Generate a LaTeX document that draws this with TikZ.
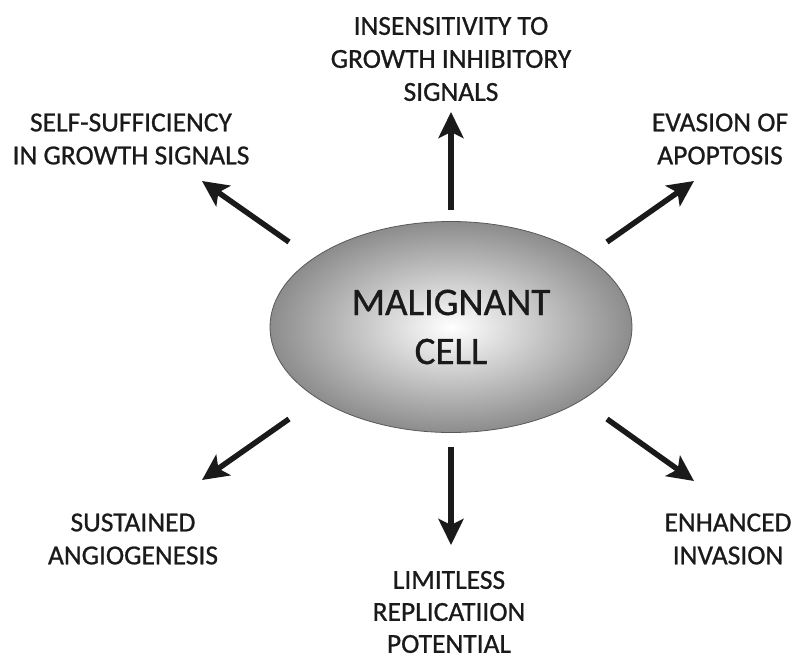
\documentclass[tikz,border=0pt]{standalone}
\usepackage{fontspec}
\setmainfont{Carlito}
\newfontfamily\lblfont{Carlito}[FakeBold=0.8]
\usetikzlibrary{arrows.meta,shapes.geometric}
\definecolor{ink}{HTML}{1A1A1A}
\begin{document}
\begin{tikzpicture}[x=1pt,y=-1pt,
  lbl/.style={align=center,font=\lblfont\fontsize{27.5}{33}\selectfont,text=ink,inner sep=0pt},
  arr/.style={draw=ink,line width=5.5pt,-{Stealth[length=26pt,width=25pt,inset=6pt]}}]
\useasboundingbox (0,0) rectangle (796,659);
\node[ellipse, minimum width=362pt, minimum height=211pt, draw=black!65, line width=0.8pt,
  inner color=white, outer color=black!45, font=\lblfont\fontsize{39}{49}\selectfont, align=center, text=ink]
  (cell) at (451,327) {MALIGNANT\\CELL};
\node[lbl] (t1) at (451,59) {INSENSITIVITY TO\\GROWTH INHIBITORY\\SIGNALS};
\node[lbl] (t2) at (131,139) {SELF-SUFFICIENCY\\IN GROWTH SIGNALS};
\node[lbl] (t3) at (720,139) {EVASION OF\\APOPTOSIS};
\node[lbl] (t4) at (133,539) {SUSTAINED\\ANGIOGENESIS};
\node[lbl, font=\lblfont\fontsize{27.5}{32}\selectfont] (t5) at (449,612) {LIMITLESS\\REPLICATIION\\POTENTIAL};
\node[lbl] (t6) at (728,539) {ENHANCED\\INVASION};
\coordinate (s1) at (451,210); \coordinate (e1) at (451,112);
\coordinate (s2) at (289,242); \coordinate (e2) at (202,181);
\coordinate (s3) at (607,242); \coordinate (e3) at (694,181);
\coordinate (s4) at (289,419); \coordinate (e4) at (202,480);
\coordinate (s5) at (451,447); \coordinate (e5) at (451,545);
\coordinate (s6) at (607,419); \coordinate (e6) at (694,481);
\draw[arr] (s1) -- (e1);
\draw[arr] (s2) -- (e2);
\draw[arr] (s3) -- (e3);
\draw[arr] (s4) -- (e4);
\draw[arr] (s5) -- (e5);
\draw[arr] (s6) -- (e6);
\end{tikzpicture}
\end{document}
